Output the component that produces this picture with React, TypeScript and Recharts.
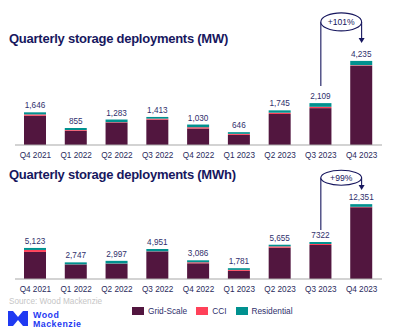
import { BarChart, Bar, XAxis, YAxis, LabelList, ReferenceLine } from 'recharts'

const quarters = ['Q4 2021', 'Q1 2022', 'Q2 2022', 'Q3 2022', 'Q4 2022', 'Q1 2023', 'Q2 2023', 'Q3 2023', 'Q4 2023']

// MW
const mwGrid = [1471, 720, 1133, 1278, 830, 511, 1560, 1857, 3983]
const mwCci = [70, 35, 20, 50, 65, 50, 67, 67, 34]
const mwRes = [105, 100, 130, 85, 135, 85, 118, 185, 218]
const mwLabels = ['1,646', '855', '1,283', '1,413', '1,030', '646', '1,745', '2,109', '4,235']

// MWh (Q3 2023 bar is drawn shorter than its label in the source)
const mwhGrid = [4463, 2397, 2527, 4541, 2591, 1341, 5160, 5610, 11831]
const mwhCci = [330, 20, 30, 30, 165, 165, 220, 165, 80]
const mwhRes = [330, 330, 440, 380, 330, 275, 275, 330, 440]
const mwhLabels = ['5,123', '2,747', '2,997', '4,951', '3,086', '1,781', '5,655', '7322', '12,351']

const series = [
  { key: 'grid', name: 'Grid-Scale', color: '#52163f' },
  { key: 'cci', name: 'CCI', color: '#ff4159' },
  { key: 'res', name: 'Residential', color: '#00918f' },
]

const FONT = '"Liberation Sans", Arial, sans-serif'
const NAVY = '#17175e'
const LABEL = '#2f2f6c'
const TICK = '#2a2a5c'
const BLUE = '#1f3af2'

function build(grid: number[], cci: number[], res: number[], labels: string[]) {
  return quarters.map((q, i) => ({ quarter: q, grid: grid[i], cci: cci[i], res: res[i], label: labels[i] }))
}

const mwData = build(mwGrid, mwCci, mwRes, mwLabels)
const mwhData = build(mwhGrid, mwhCci, mwhRes, mwhLabels)

function bubble(text: string, ry: number) {
  return (props: any) => {
    const { x1, y1, x2 } = props
    const cx = (x1 + x2) / 2
    return (
      <g>
        <ellipse cx={cx} cy={y1} rx={(x2 - x1) / 2} ry={ry} fill="#fff" stroke={NAVY} strokeWidth={1.1} />
        <text x={cx} y={y1 + 3} textAnchor="middle" fontSize={8.6} fill={NAVY} fontFamily={FONT}>
          {text}
        </text>
      </g>
    )
  }
}

function arrowShape(props: any) {
  const { x1, y1, x2, y2 } = props
  return (
    <g>
      <line x1={x1} y1={y1} x2={x2} y2={y2 - 4} stroke={NAVY} strokeWidth={1.1} />
      <polygon points={`${x2 - 3},${y2 - 5} ${x2 + 3},${y2 - 5} ${x2},${y2}`} fill={NAVY} />
    </g>
  )
}

type PanelProps = {
  data: any[]
  top: number
  height: number
  marginTop: number
  max: number
  lineFrom: number
  annoY: number
  arrowTo: number
  growth: string
  ry: number
}

function Panel({ data, top, height, marginTop, max, lineFrom, annoY, arrowTo, growth, ry }: PanelProps) {
  return (
    <div style={{ position: 'absolute', left: 0, top }}>
      <BarChart width={400} height={height} data={data} margin={{ top: marginTop, right: 18, left: 15, bottom: 0 }} barSize={22}>
        <XAxis
          dataKey="quarter"
          interval={0}
          tickLine={false}
          tickSize={5}
          tickMargin={2}
          height={15}
          axisLine={{ stroke: '#a8a8a8', strokeWidth: 1.2 }}
          tick={{ fontSize: 8.2, fill: TICK, fontFamily: FONT }}
        />
        <YAxis hide domain={[0, max]} />
        {series.map((s, i) => (
          <Bar key={s.key} dataKey={s.key} stackId="a" fill={s.color} isAnimationActive={false}>
            {i === series.length - 1 && (
              <LabelList dataKey="label" position="top" offset={4} fill={LABEL} fontSize={8.2} fontFamily={FONT} />
            )}
          </Bar>
        ))}
        <ReferenceLine
          segment={[{ x: 'Q3 2023', y: lineFrom }, { x: 'Q3 2023', y: annoY }]}
          stroke={NAVY}
          strokeWidth={1.1}
          ifOverflow="visible"
        />
        <ReferenceLine
          segment={[{ x: 'Q4 2023', y: annoY }, { x: 'Q4 2023', y: arrowTo }]}
          shape={arrowShape}
          ifOverflow="visible"
        />
        <ReferenceLine
          segment={[{ x: 'Q3 2023', y: annoY }, { x: 'Q4 2023', y: annoY }]}
          shape={bubble(growth, ry)}
          ifOverflow="visible"
        />
      </BarChart>
    </div>
  )
}

export default function App() {
  const titleStyle: React.CSSProperties = {
    position: 'absolute',
    left: 9,
    fontFamily: FONT,
    fontWeight: 700,
    fontSize: 13,
    lineHeight: '13px',
    letterSpacing: -0.25,
    color: NAVY,
    whiteSpace: 'nowrap',
  }
  const logoText: React.CSSProperties = {
    position: 'absolute',
    left: 33,
    fontFamily: FONT,
    fontWeight: 700,
    fontSize: 8.8,
    lineHeight: '9px',
    letterSpacing: 0.5,
    color: BLUE,
  }
  return (
    <div style={{ position: 'absolute', left: 0, top: 0, width: 400, height: 335, background: '#fff', overflow: 'hidden' }}>
      <Panel data={mwData} top={0} height={160} marginTop={6} max={7000} lineFrom={2970} annoY={6200} arrowTo={5140} growth="+101%" ry={9} />
      <Panel data={mwhData} top={159} height={135} marginTop={0} max={19800} lineFrom={8100} annoY={16700} arrowTo={14700} growth="+99%" ry={7.5} />

      <div style={{ ...titleStyle, top: 32 }}>Quarterly storage deployments (MW)</div>
      <div style={{ ...titleStyle, top: 168 }}>Quarterly storage deployments (MWh)</div>

      <div style={{ position: 'absolute', left: 9, top: 297, fontFamily: FONT, fontSize: 8.2, lineHeight: '10px', color: '#c6c6c6' }}>
        Source: Wood Mackenzie
      </div>

      <div style={{ position: 'absolute', left: 132, top: 306, height: 10, display: 'flex', alignItems: 'center', fontFamily: FONT, fontSize: 8.3, color: LABEL }}>
        {series.map((s) => (
          <div key={s.key} style={{ display: 'flex', alignItems: 'center', marginRight: 9 }}>
            <span style={{ width: 12, height: 8, background: s.color, marginRight: 4 }} />
            <span>{s.name}</span>
          </div>
        ))}
      </div>

      <svg style={{ position: 'absolute', left: 0, top: 0 }} width={40} height={335}>
        <polygon points="8,311 13,311 18,317 23,311 28,311 28,326 23,326 18,320 13,326 8,326" fill={BLUE} />
      </svg>
      <div style={{ ...logoText, top: 310.5 }}>Wood</div>
      <div style={{ ...logoText, top: 319.5 }}>Mackenzie</div>
    </div>
  )
}
